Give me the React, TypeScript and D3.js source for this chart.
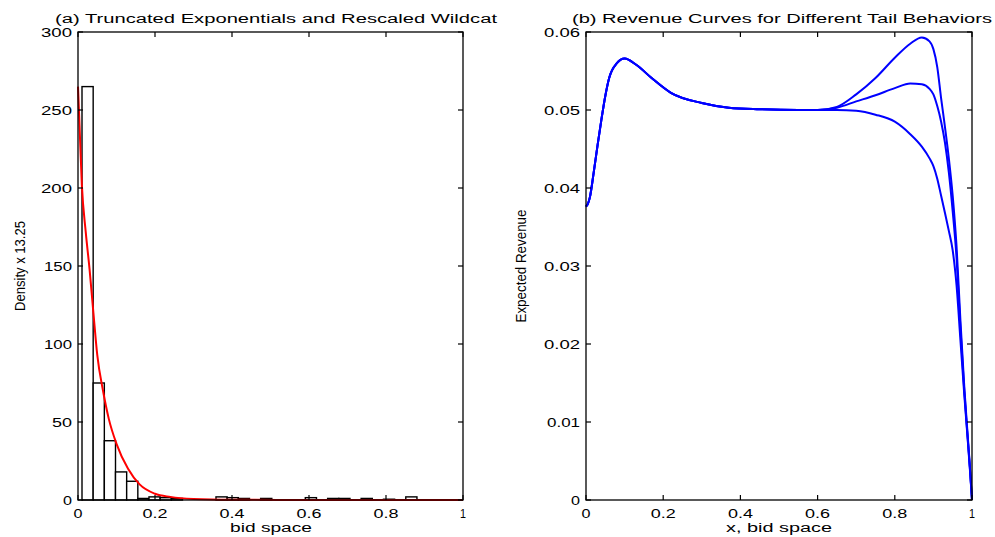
import React from 'react';
import * as d3 from 'd3';

// ---------- Panel (a) data ----------
const binStart = 0.0104;
const binWidth = 0.029;
const histCounts = [265, 75, 38, 18, 12, 1, 2, 1.5, 1, 0, 0, 0, 2, 1.5, 1, 0, 1, 0, 0, 0, 1.5, 0, 1, 1, 0, 1, 0, 0.5, 0, 2];
const fitX = [0, 0.004, 0.01, 0.02, 0.03, 0.04, 0.05, 0.065, 0.08, 0.1, 0.13, 0.16, 0.2, 0.24, 0.3, 0.4, 0.6, 1.0];
const fitY = [265, 240, 202, 172, 148, 120, 93, 70, 52, 36, 20, 10, 4, 2, 0.7, 0.15, 0, 0];
const leftYTicks = [0, 50, 100, 150, 200, 250, 300];
const xTicks = [0, 0.2, 0.4, 0.6, 0.8, 1];
const xTickLabels = ['0', '0.2', '0.4', '0.6', '0.8', '1'];

// ---------- Panel (b) data ----------
const headX = [0, 0.005, 0.01, 0.02, 0.03, 0.04, 0.05, 0.06, 0.08, 0.1, 0.13, 0.17, 0.22, 0.3, 0.37, 0.45, 0.55, 0.6];
const headY = [0.0376, 0.0380, 0.0388, 0.0420, 0.0455, 0.0488, 0.0518, 0.0541, 0.0560, 0.0566, 0.0558, 0.0541, 0.0522, 0.0509, 0.0503, 0.0501, 0.0500, 0.0500];
const tailX = [0.6, 0.65, 0.7, 0.75, 0.8, 0.84, 0.87, 0.89, 0.9, 0.91, 0.92, 0.93, 0.94, 0.95, 0.96, 0.97, 0.98, 0.99, 0.995, 1.0];
const tailA = [0.0500, 0.0504, 0.0520, 0.0541, 0.0567, 0.0585, 0.0593, 0.0588, 0.0578, 0.0555, 0.0515, 0.0478, 0.0438, 0.0390, 0.0325, 0.0230, 0.0145, 0.0075, 0.0040, 0.0];
const tailB = [0.0500, 0.0503, 0.0511, 0.0519, 0.0528, 0.0534, 0.0533, 0.0527, 0.0520, 0.0505, 0.0485, 0.0458, 0.0420, 0.0370, 0.0310, 0.0220, 0.0140, 0.0072, 0.0038, 0.0];
const tailC = [0.0500, 0.0500, 0.0499, 0.0494, 0.0485, 0.0469, 0.0453, 0.0438, 0.0428, 0.0412, 0.0390, 0.0368, 0.0345, 0.0320, 0.0275, 0.0205, 0.0135, 0.0070, 0.0036, 0.0];
const rightYTicks = [0, 0.01, 0.02, 0.03, 0.04, 0.05, 0.06];
const rightYTickLabels = ['0', '0.01', '0.02', '0.03', '0.04', '0.05', '0.06'];

const FONT = "'Liberation Sans', Arial, Helvetica, sans-serif";

// width the reference's wide bitmap font gives a numeric label
const labelWidth = (s: string) => {
  let w = 0;
  for (const ch of s) w += ch === '.' ? 5 : ch === '1' ? 8 : 11;
  return w - 2;
};

type Box = { x0: number; x1: number; y0: number; y1: number };

function Frame({ box, xs, ys, xScale, yScale, xLabels, yLabels }: any) {
  const tk = 5;
  return (
    <g>
      <rect x={box.x0} y={box.y0} width={box.x1 - box.x0} height={box.y1 - box.y0} fill="none" stroke="#000" strokeWidth={1.3} />
      {xs.map((t: number, i: number) => (
        <g key={'x' + i}>
          <line x1={xScale(t)} x2={xScale(t)} y1={box.y1} y2={box.y1 - tk} stroke="#000" strokeWidth={1.2} />
          <line x1={xScale(t)} x2={xScale(t)} y1={box.y0} y2={box.y0 + tk} stroke="#000" strokeWidth={1.2} />
          <text x={xScale(t)} y={box.y1 + 18} textAnchor="middle" fontSize={12} fontFamily={FONT}
            textLength={labelWidth(xLabels[i])} lengthAdjust="spacingAndGlyphs">{xLabels[i]}</text>
        </g>
      ))}
      {ys.map((t: number, i: number) => (
        <g key={'y' + i}>
          <line x1={box.x0} x2={box.x0 + tk} y1={yScale(t)} y2={yScale(t)} stroke="#000" strokeWidth={1.2} />
          <line x1={box.x1} x2={box.x1 - tk} y1={yScale(t)} y2={yScale(t)} stroke="#000" strokeWidth={1.2} />
          <text x={box.x0 - 6} y={yScale(t) + 4.5} textAnchor="end" fontSize={12} fontFamily={FONT}
            textLength={labelWidth(yLabels[i])} lengthAdjust="spacingAndGlyphs">{yLabels[i]}</text>
        </g>
      ))}
    </g>
  );
}

export default function App() {
  const W = 995, H = 537;
  const LB: Box = { x0: 78, x1: 463, y0: 32, y1: 500 };
  const RB: Box = { x0: 586, x1: 972, y0: 32, y1: 500 };

  const xL = d3.scaleLinear().domain([0, 1]).range([LB.x0, LB.x1]);
  const yL = d3.scaleLinear().domain([0, 300]).range([LB.y1, LB.y0]);
  const xR = d3.scaleLinear().domain([0, 1]).range([RB.x0, RB.x1]);
  const yR = d3.scaleLinear().domain([0, 0.06]).range([RB.y1, RB.y0]);

  const fitLine = d3.line<number>()
    .x((_, i) => xL(fitX[i]))
    .y((d) => yL(d))
    .curve(d3.curveMonotoneX);

  const revLine = d3.line<[number, number]>()
    .x((d) => xR(d[0]))
    .y((d) => yR(d[1]))
    .curve(d3.curveMonotoneX);

  const headPts: [number, number][] = headX.map((x, i) => [x, headY[i]]);
  const tails = [tailA, tailB, tailC].map((t) => headPts.concat(tailX.slice(1).map((x, i) => [x, t[i + 1]] as [number, number])));

  return (
    <svg width={W} height={H} style={{ position: 'absolute', left: 0, top: 0, background: '#fff' }}>
      <rect width={W} height={H} fill="#fff" />
      {/* Panel (a) */}
      <g>
        {histCounts.map((c, i) => {
          if (c <= 0) return null;
          const a = binStart + i * binWidth;
          const b = a + binWidth;
          return (
            <rect key={i} x={xL(a)} y={yL(c)} width={xL(b) - xL(a)} height={yL(0) - yL(c)}
              fill="#fff" stroke="#000" strokeWidth={1.4} />
          );
        })}
        <path d={fitLine(fitY) || ''} fill="none" stroke="#ff0000" strokeWidth={2} />
        <Frame box={LB} xs={xTicks} ys={leftYTicks} xScale={xL} yScale={yL}
          xLabels={xTickLabels} yLabels={leftYTicks.map(String)} />
        <text x={276} y={23} textAnchor="middle" fontSize={12.5} fontFamily={FONT}
          textLength={442} lengthAdjust="spacingAndGlyphs">(a) Truncated Exponentials and Rescaled Wildcat</text>
        <text x={271} y={532} textAnchor="middle" fontSize={12.5} fontFamily={FONT}
          textLength={82} lengthAdjust="spacingAndGlyphs">bid space</text>
        <text transform={`translate(25, 266) rotate(-90)`} textAnchor="middle" fontSize={14} fontFamily={FONT}
          textLength={90} lengthAdjust="spacingAndGlyphs">Density x 13.25</text>
      </g>
      {/* Panel (b) */}
      <g>
        {tails.map((pts, i) => (
          <path key={i} d={revLine(pts) || ''} fill="none" stroke="#0000ff" strokeWidth={2} />
        ))}
        <Frame box={RB} xs={xTicks} ys={rightYTicks} xScale={xR} yScale={yR}
          xLabels={xTickLabels} yLabels={rightYTickLabels} />
        <text x={782} y={23} textAnchor="middle" fontSize={12.5} fontFamily={FONT}
          textLength={420} lengthAdjust="spacingAndGlyphs">(b) Revenue Curves for Different Tail Behaviors</text>
        <text x={779} y={532} textAnchor="middle" fontSize={12.5} fontFamily={FONT}
          textLength={106} lengthAdjust="spacingAndGlyphs">x, bid space</text>
        <text transform={`translate(526, 266) rotate(-90)`} textAnchor="middle" fontSize={14} fontFamily={FONT}
          textLength={113} lengthAdjust="spacingAndGlyphs">Expected Revenue</text>
      </g>
    </svg>
  );
}
